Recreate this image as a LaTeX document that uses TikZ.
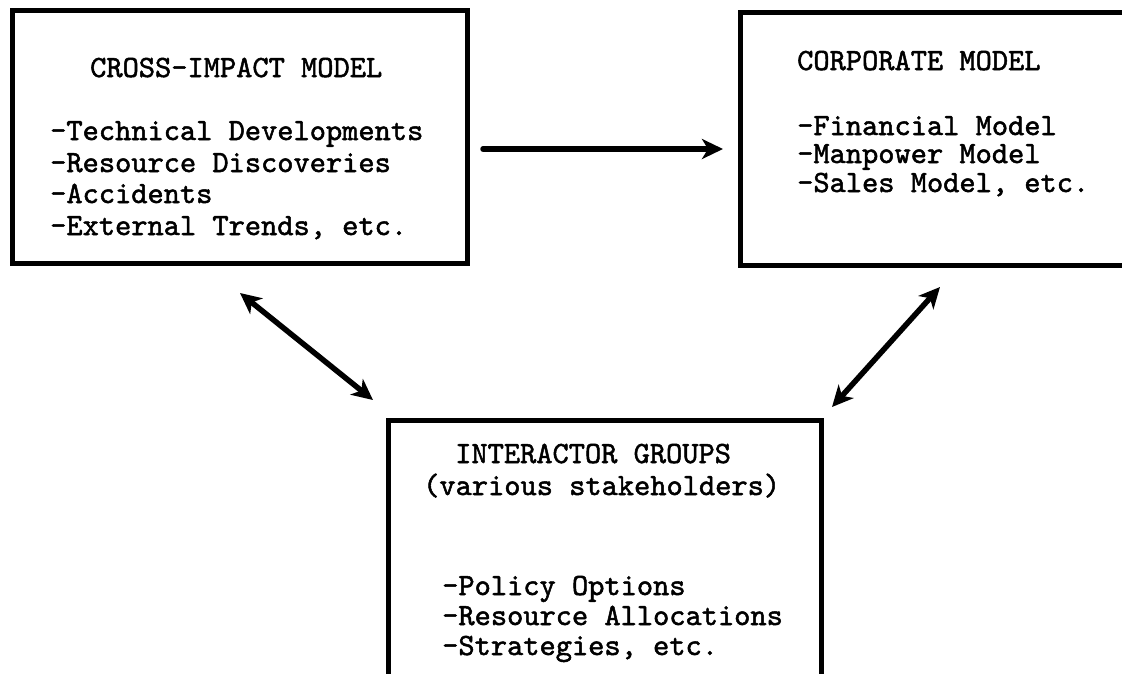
\documentclass[tikz,border=0pt]{standalone}
\usepackage{fontspec}
\newfontfamily\twfont[FakeBold=1.6]{lmmono10-regular.otf}
\usetikzlibrary{arrows.meta}
\begin{document}
\begin{tikzpicture}[x=1pt,y=-1pt,
  box/.style={draw, line width=5pt, inner sep=0pt},
  txt/.style={anchor=base west, inner sep=0pt, font=\twfont\fontsize{30.9}{32}\selectfont},
  tip/.tip={Stealth[length=21pt,width=20pt,inset=6pt]},
  link/.style={line width=5.5pt, line cap=round}]
\clip (0,0) rectangle (1122,673);
\fill[white] (0,0) rectangle (1122,673);
% boxes
\node[box, minimum width=455pt, minimum height=253pt] (cim) at (239.5,136.5) {};
\node[box, minimum width=400pt, minimum height=253pt] (corp) at (940,138.5) {};
\node[box, minimum width=433pt, minimum height=280pt] (inter) at (604.5,560) {};
% cross-impact texts
\node[txt] (t1) at (90,77) {CROSS-IMPACT MODEL};
\node[txt] (t2) at (50,140) {-Technical Developments};
\node[txt] (t3) at (50,172) {-Resource Discoveries};
\node[txt] (t4) at (50,203) {-Accidents};
\node[txt] (t5) at (50,235) {-External Trends, etc.};
% corporate texts
\node[txt] (c1) at (797,70) {CORPORATE MODEL};
\node[txt] (c2) at (797,135) {-Financial Model};
\node[txt] (c3) at (797,163) {-Manpower Model};
\node[txt] (c4) at (797,192) {-Sales Model, etc.};
% interactor texts
\node[txt] (i1) at (455,463) {INTERACTOR GROUPS};
\node[txt] (i2) at (423,495) {(various stakeholders)};
\node[txt] (i3) at (442,595) {-Policy Options};
\node[txt] (i4) at (442,625) {-Resource Allocations};
\node[txt] (i5) at (442,655) {-Strategies, etc.};
% connectors
\coordinate (h1) at (483,149);
\coordinate (h2) at (723,149);
\coordinate (d1) at (240,293);
\coordinate (d2) at (373,400);
\coordinate (e1) at (940,287);
\coordinate (e2) at (832,407);
\draw[link, -{tip}] (h1) -- (h2);
\draw[link, {tip}-{tip}] (d1) -- (d2);
\draw[link, {tip}-{tip}] (e1) -- (e2);
\end{tikzpicture}
\end{document}
